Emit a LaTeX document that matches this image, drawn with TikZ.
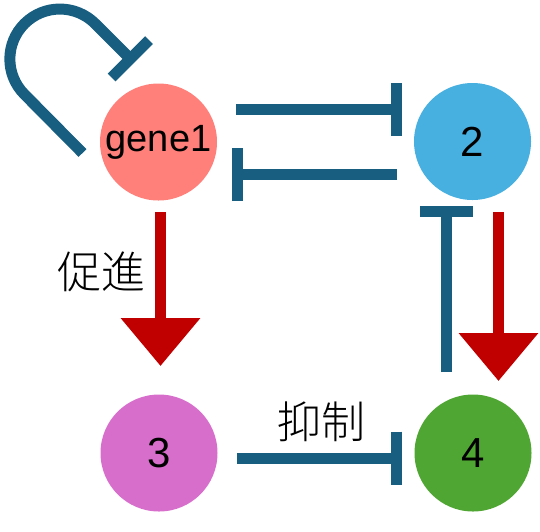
\documentclass[tikz,border=0pt]{standalone}
\usepackage{fontspec}
\setmainfont{Liberation Sans}
\newfontfamily\cjk{Noto Sans CJK JP Light}
\usetikzlibrary{arrows.meta,calc}
\definecolor{inhib}{RGB}{23,94,128}
\definecolor{prom}{RGB}{192,0,0}
\definecolor{cA}{RGB}{255,128,122}
\definecolor{cB}{RGB}{72,176,224}
\definecolor{cC}{RGB}{216,110,204}
\definecolor{cD}{RGB}{80,166,50}
\tikzset{
  gene/.style={circle,inner sep=0pt,minimum size=117pt,font=\fontsize{42}{42}\selectfont},
  inh/.style={draw=inhib,line width=11pt,-{Bar[width=53pt]}},
  act/.style={draw=prom,line width=11pt,-{Triangle[width=77pt,length=48pt]}},
  lab/.style={font=\cjk\fontsize{44}{44}\selectfont,inner sep=0pt}
}
\begin{document}
\begin{tikzpicture}[x=1pt,y=-1pt]
\useasboundingbox (0,0) rectangle (540,531);
\node[gene,fill=cA,font=\fontsize{38}{38}\selectfont] (g1) at (158.5,142) {gene1};
\node[gene,fill=cB] (n2) at (472.5,141.5) {2};
\node[gene,fill=cC] (n3) at (159,453) {3};
\node[gene,fill=cD] (n4) at (473,453) {4};
% self loop
\draw[inh] ($(g1.center)+(-76,11)$) -- ++(-58,-58.6) arc[start angle=135,end angle=315,radius=50] -- ++(39,39);
\draw[inh] ($(g1.center)+(77.5,-32.5)$) -- ($(n2.center)+(-70.5,-32)$);
\draw[inh] ($(n2.center)+(-75.5,33)$) -- ($(g1.center)+(73.5,32.5)$);
\draw[inh] ($(n4.center)+(-26.5,-81)$) -- ($(n2.center)+(-26,64.5)$);
\draw[inh] ($(n3.center)+(78,5)$) -- ($(n4.center)+(-71,5)$);
\draw[act] ($(g1.center)+(2,70)$) -- ($(n3.center)+(1.5,-87)$);
\draw[act] ($(n2.center)+(26,70.5)$) -- ($(n4.center)+(25.5,-72)$);
\node[lab] (l1) at (101,272) {促進};
\node[lab] (l2) at (321,422) {抑制};
\end{tikzpicture}
\end{document}
